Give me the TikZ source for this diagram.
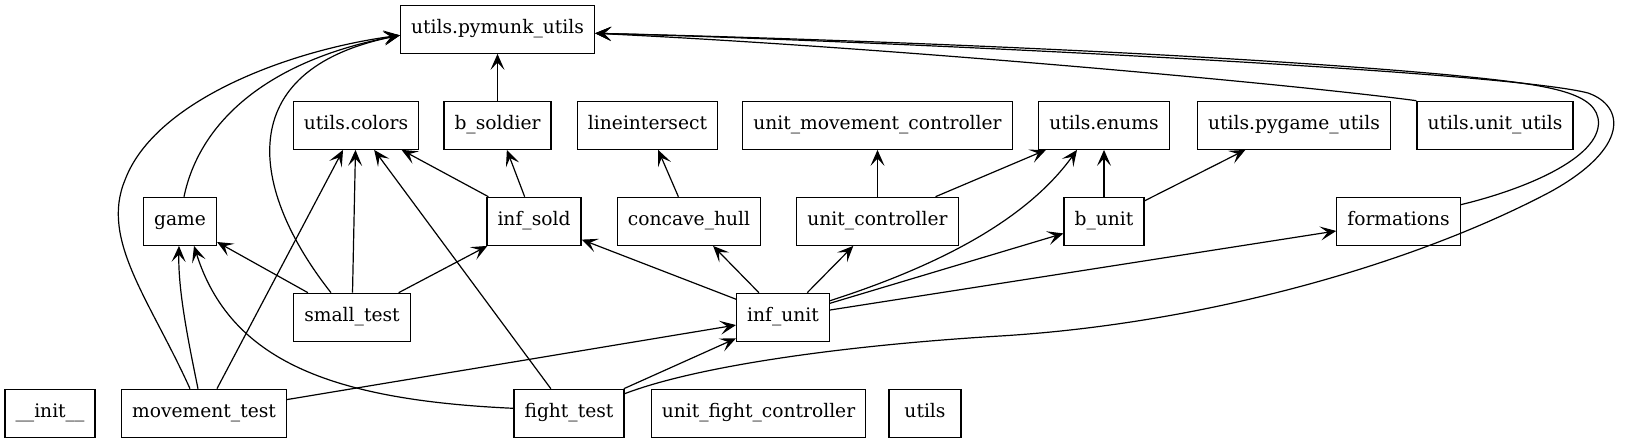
\documentclass[tikz,border=0pt]{standalone}
\usepackage{fontspec}
\setmainfont{DejaVu Serif}
\usetikzlibrary{arrows.meta,calc}
\begin{document}
\begin{tikzpicture}[x=0.75pt,y=-0.75pt,
  mod/.style={draw,line width=0.9pt,rectangle,minimum height=36pt,minimum width=54pt,
    inner xsep=7.92pt,inner ysep=0pt,text height=10pt,text depth=3pt,
    font=\fontsize{14pt}{16pt}\selectfont},
  edge/.style={line width=0.9pt,-{Stealth[length=12pt,width=10.5pt,inset=5.5pt]}}]
\useasboundingbox (0,0) rectangle (1633,443);
% row 1
\node[mod] (pm) at (497.5,29.3) {utils.pymunk\_utils};
% row 2
\node[mod] (col) at (356,125.3) {utils.colors};
\node[mod] (bs) at (497.5,125.3) {b\_soldier};
\node[mod] (li) at (647.5,125.3) {lineintersect};
\node[mod] (umc) at (877.5,125.3) {unit\_movement\_controller};
\node[mod] (en) at (1104,125.3) {utils.enums};
\node[mod] (pg) at (1294,125.3) {utils.pygame\_utils};
\node[mod] (uu) at (1495,125.3) {utils.unit\_utils};
% row 3
\node[mod] (game) at (180,221.3) {game};
\node[mod] (isold) at (534,221.3) {inf\_sold};
\node[mod] (ch) at (689,221.3) {concave\_hull};
\node[mod] (uc) at (877.5,221.3) {unit\_controller};
\node[mod] (bu) at (1104,221.3) {b\_unit};
\node[mod] (fm) at (1398.5,221.3) {formations};
% row 4
\node[mod] (st) at (352,317.3) {small\_test};
\node[mod] (iu) at (783,317.3) {inf\_unit};
% row 5
\node[mod] (init) at (50,413.3) {\_\_init\_\_};
\node[mod] (mt) at (204,413.3) {movement\_test};
\node[mod] (ft) at (569,413.3) {fight\_test};
\node[mod] (ufc) at (758.5,413.3) {unit\_fight\_controller};
\node[mod] (ut) at (925,413.3) {utils};

% straight edges
\draw[edge] (bs) -- (pm);
\draw[edge] (isold) -- (col);
\draw[edge] (isold) -- (bs);
\draw[edge] (st) -- (col);
\draw[edge] (st) -- (game);
\draw[edge] (st) -- (isold);
\draw[edge] (mt) -- (col);
\draw[edge] (mt) -- (iu);
\draw[edge] (ft) -- (col);
\draw[edge] (ft) -- (iu);
\draw[edge] (ch) -- (li);
\draw[edge] (uc) -- (umc);
\draw[edge] (uc) -- (en);
\draw[edge] (bu) -- (en);
\draw[edge] (bu) -- (pg);
\draw[edge] (iu) -- (isold);
\draw[edge] (iu) -- (ch);
\draw[edge] (iu) -- (uc);
\draw[edge] (iu) -- (bu);
\draw[edge] (iu) -- (fm);

% curved edges
\draw[edge] ($(mt.north)+(-6,0)$) .. controls (188,340) and (178,290) .. ($(game.south)+(-1,0)$);
\draw[edge] ($(ft.west)+(0,-5)$) .. controls (330,400) and (230,360) .. ($(game.south)+(14,0)$);
\draw[edge] ($(iu.north east)+(0,8)$) .. controls (950,262) and (1030,215) .. ($(en.south)+(-27,0)$);

\draw[edge] ($(game.north)+(4,0)$) .. controls (200,120) and (270,60) .. ($(pm.west)+(0,6)$);
\draw[edge] ($(st.north)+(-21,0)$) .. controls (250,190) and (230,70) .. ($(pm.west)+(0,6)$);
\draw[edge] ($(mt.north)+(-14,0)$) .. controls (150,300) and (100,240) .. (125,180)
   .. controls (155,100) and (290,50) .. ($(pm.west)+(0,6)$);

\draw[edge] ($(ft.north east)+(0,5)$) .. controls (700,365) and (850,345) .. (1000,336)
   .. controls (1200,324) and (1410,266) .. (1550,192)
   .. controls (1630,148) and (1625,106) .. (1588,93)
   .. controls (1495,69) and (800,38) .. ($(pm.east)+(0,4)$);
\draw[edge] ($(fm.north east)+(0,8)$) .. controls (1530,188) and (1605,155) .. (1598,118)
   .. controls (1592,90) and (1540,84) .. (1450,75)
   .. controls (1200,52) and (800,38) .. ($(pm.east)+(0,4)$);
\draw[edge] (uu.north west) .. controls (1300,85) and (900,48) .. ($(pm.east)+(0,4)$);
\end{tikzpicture}
\end{document}
